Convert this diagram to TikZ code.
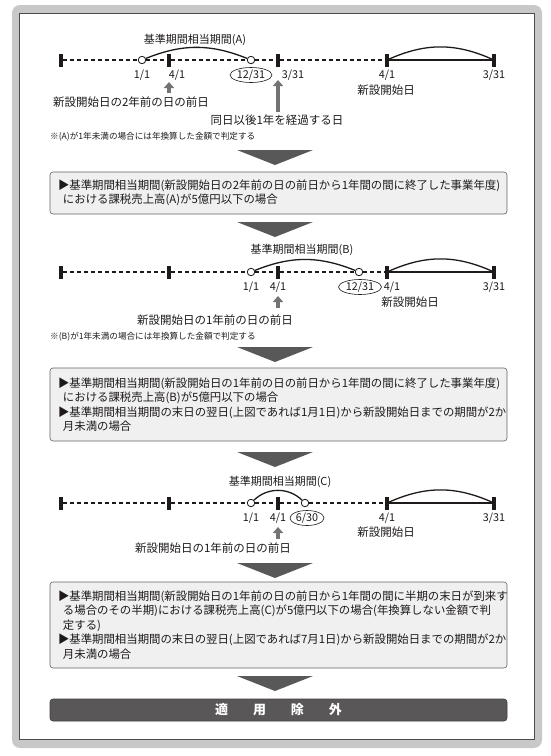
\documentclass[tikz,border=0pt]{standalone}
\usepackage{fontspec}
\setmainfont{Noto Sans CJK JP}
\usepackage{xcolor}
\usepackage{tikz}
\usetikzlibrary{shapes.geometric,arrows.meta,positioning}
\definecolor{inkdark}{RGB}{30,26,26}
\definecolor{framegray}{RGB}{200,200,200}
\definecolor{boxfill}{RGB}{240,240,240}
\definecolor{boxline}{RGB}{100,100,100}
\definecolor{arrowgray}{RGB}{115,115,115}
\definecolor{trigray}{RGB}{88,88,88}
\definecolor{bardark}{RGB}{89,87,87}

\begin{document}
\begin{tikzpicture}[
  x=1pt, y=1pt,
  every node/.style={text=inkdark},
  lbl/.style={font=\fontsize{11}{12}\selectfont, inner sep=0pt},
  date/.style={font=\fontsize{10.8}{12}\selectfont, inner sep=0pt},
  txt/.style={font=\fontsize{11.5}{13}\selectfont, inner sep=0pt},
  note/.style={font=\fontsize{8.6}{10}\selectfont, inner sep=0pt, anchor=west},
  tick/.style={rectangle, fill=inkdark, minimum width=3.2pt, minimum height=13pt, inner sep=0pt},
  dot/.style={circle, draw=inkdark, fill=white, line width=0.8pt, minimum size=7.5pt, inner sep=0pt},
  ring/.style={ellipse, draw=inkdark, line width=0.6pt, minimum width=#1, minimum height=15pt,
               inner sep=0pt, font=\fontsize{10.8}{12}\selectfont},
  dashline/.style={line width=1.2pt, dash pattern=on 4pt off 3pt, draw=inkdark},
  span/.style={line width=1.3pt, draw=inkdark},
  uparrow/.style={draw=arrowgray, line width=#1, -{Triangle[width=10pt,length=6pt]}},
  box/.style={rectangle, draw=boxline, fill=boxfill, rounded corners=3pt, line width=0.6pt,
              minimum width=457pt, text width=441pt, inner xsep=8pt, align=left,
              font=\fontsize{11.4}{14.5}\selectfont},
  bar/.style={rectangle, draw=black!75, fill=bardark, rounded corners=3pt, line width=0.6pt,
              minimum width=457pt, minimum height=22pt, text=white,
              font=\bfseries\fontsize{13}{14}\selectfont},
  tri/.style={fill=trigray}
]
\useasboundingbox (0,0) rectangle (550,-756);

% --- Frame ---
\fill[framegray, rounded corners=8pt] (12,-5) rectangle (542,-748);
\filldraw[fill=white, draw=black!70, line width=0.9pt] (19,-13) rectangle (534,-739);

% --- Timeline (A) ---
\node[tick] (a0) at (61,-60) {};
\node[tick] (a1) at (169,-60) {};
\node[tick] (a2) at (278,-60) {};
\node[tick] (a3) at (387,-60) {};
\node[tick] (a4) at (494,-60) {};
\node[dot] (aS) at (142,-60) {};
\node[dot] (aE) at (251,-60) {};
\draw[dashline] (a0) -- (aS) -- (a1) -- (aE) -- (a2) -- (a3);
\draw[span] (a3) -- (a4);
\draw[span] (aS) to[bend left=22] (aE);
\draw[span] (a3) to[bend left=24] (a4);

\node[lbl] (lblA) at (195,-40) {基準期間相当期間(A)};
\node[date] (dA1) at (142,-75) {1/1};
\node[date] (dA2) at (177,-75) {4/1};
\node[ring=42pt] (dA3) at (251,-75) {12/31};
\node[date] (dA4) at (293,-75) {3/31};
\node[date] (dA5) at (387,-75) {4/1};
\node[date] (dA6) at (494,-75) {3/31};
\node[txt] (openA) at (386,-90) {新設開始日};

\coordinate (pA1) at (169,-93);
\coordinate (qA1) at (169,-82);
\coordinate (pA2) at (278,-112);
\coordinate (qA2) at (278,-80);
\draw[uparrow=3.5pt] (pA1) -- (qA1);
\draw[uparrow=4.5pt] (pA2) -- (qA2);
\node[txt] (fromA) at (131,-102) {新設開始日の2年前の日の前日};
\node[txt] (yearA) at (277,-120) {同日以後1年を経過する日};
\node[note] (noteA) at (50,-137) {※(A)が1年未満の場合には年換算した金額で判定する};

% --- Down arrows ---
\foreach \ty in {150,222,347,452,563,676}
  \fill[tri] (237,-\ty) -- (313,-\ty) -- (275,{-\ty-15}) -- cycle;

% --- Condition (A) ---
\node[box, minimum height=42pt] (condA) at (278.5,-193) {%
▶基準期間相当期間(新設開始日の2年前の日の前日から1年間の間に終了した事業年度)\\
\hspace*{5pt}における課税売上高(A)が5億円以下の場合};

% --- Timeline (B) ---
\node[tick] (b0) at (61,-272) {};
\node[tick] (b1) at (169,-272) {};
\node[tick] (b2) at (278,-272) {};
\node[tick] (b3) at (387,-272) {};
\node[tick] (b4) at (494,-272) {};
\node[dot] (bS) at (251,-272) {};
\node[dot] (bE) at (359,-272) {};
\draw[dashline] (b0) -- (b1) -- (bS) -- (b2) -- (bE) -- (b3);
\draw[span] (b3) -- (b4);
\draw[span] (bS) to[bend left=22] (bE);
\draw[span] (b3) to[bend left=24] (b4);

\node[lbl] (lblB) at (302,-250) {基準期間相当期間(B)};
\node[date] (dB1) at (251,-287) {1/1};
\node[date] (dB2) at (278,-287) {4/1};
\node[ring=43pt] (dB3) at (360,-287) {12/31};
\node[date] (dB4) at (392,-287) {4/1};
\node[date] (dB5) at (494,-287) {3/31};
\node[txt] (openB) at (410,-302) {新設開始日};

\coordinate (pB1) at (278,-308);
\coordinate (qB1) at (278,-296);
\draw[uparrow=3.5pt] (pB1) -- (qB1);
\node[txt] (fromB) at (215,-320) {新設開始日の1年前の日の前日};
\node[note] (noteB) at (50,-337) {※(B)が1年未満の場合には年換算した金額で判定する};

% --- Condition (B) ---
\node[box, minimum height=73pt] (condB) at (278.5,-404.5) {%
▶基準期間相当期間(新設開始日の1年前の日の前日から1年間の間に終了した事業年度)\\
\hspace*{5pt}における課税売上高(B)が5億円以下の場合\\
▶基準期間相当期間の末日の翌日(上図であれば1月1日)から新設開始日までの期間が2か\\
\hspace*{5pt}月未満の場合};

% --- Timeline (C) ---
\node[tick] (c0) at (61,-503) {};
\node[tick] (c1) at (169,-503) {};
\node[tick] (c2) at (278,-503) {};
\node[tick] (c3) at (387,-503) {};
\node[tick] (c4) at (494,-503) {};
\node[dot] (cS) at (251,-503) {};
\node[dot] (cE) at (305,-503) {};
\draw[dashline] (c0) -- (c1) -- (cS) -- (c2) -- (cE) -- (c3);
\draw[span] (c3) -- (c4);
\draw[span] (cS) to[bend left=44] (cE);
\draw[span] (c3) to[bend left=24] (c4);

\node[lbl] (lblC) at (280,-482) {基準期間相当期間(C)};
\node[date] (dC1) at (251,-518) {1/1};
\node[date] (dC2) at (278,-518) {4/1};
\node[ring=34pt] (dC3) at (307,-518) {6/30};
\node[date] (dC4) at (387,-518) {4/1};
\node[date] (dC5) at (494,-518) {3/31};
\node[txt] (openC) at (386,-532) {新設開始日};

\coordinate (pC1) at (278,-539);
\coordinate (qC1) at (278,-527);
\draw[uparrow=3.5pt] (pC1) -- (qC1);
\node[txt] (fromC) at (213,-548) {新設開始日の1年前の日の前日};

% --- Condition (C) ---
\node[box, minimum height=86pt] (condC) at (278.5,-625) {%
▶基準期間相当期間(新設開始日の1年前の日の前日から1年間の間に半期の末日が到来す\\
\hspace*{5pt}る場合のその半期)における課税売上高(C)が5億円以下の場合(年換算しない金額で判\\
\hspace*{5pt}定する)\\
▶基準期間相当期間の末日の翌日(上図であれば7月1日)から新設開始日までの期間が2か\\
\hspace*{5pt}月未満の場合};

% --- Result ---
\node[bar] (result) at (278.5,-710) {適\hspace{25pt}用\hspace{25pt}除\hspace{25pt}外};

\end{tikzpicture}
\end{document}
